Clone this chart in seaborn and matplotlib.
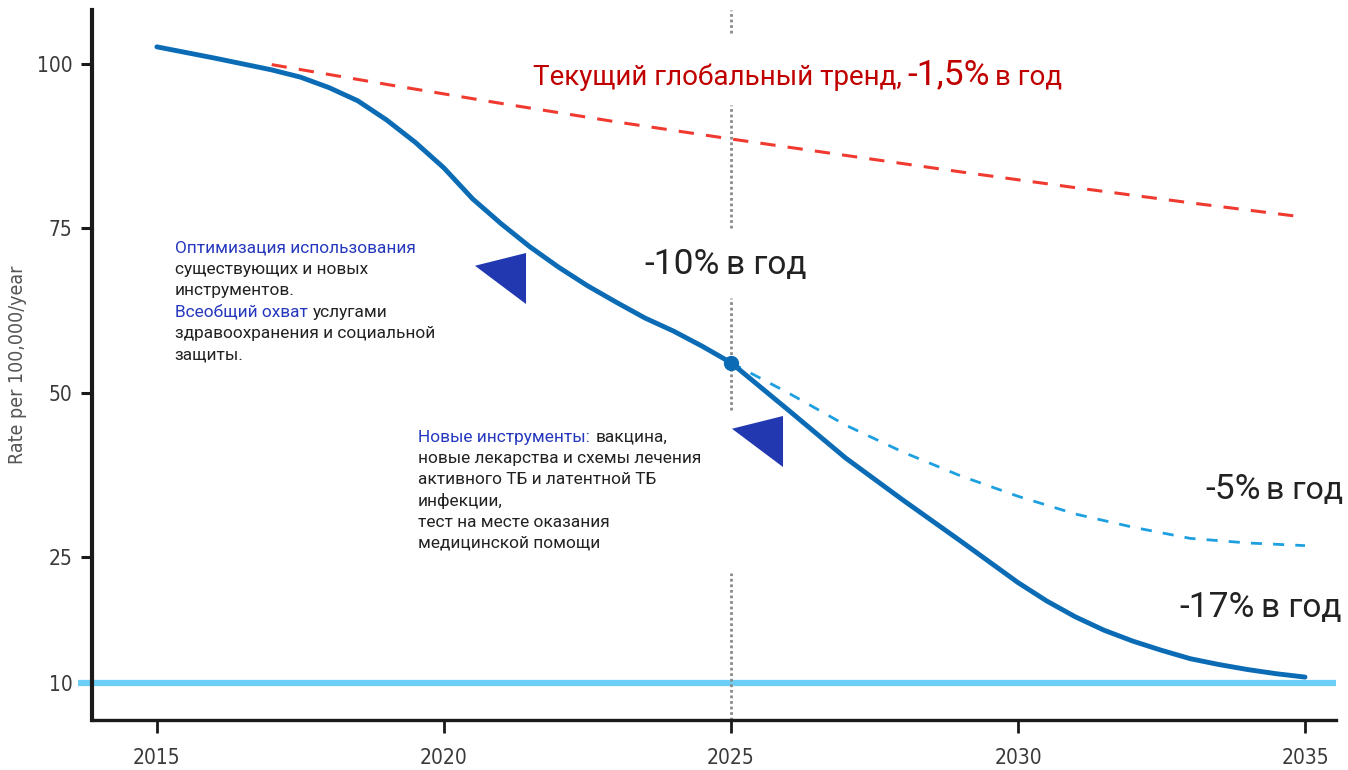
import numpy as np
import pandas as pd
import matplotlib
matplotlib.use("Agg")
import matplotlib.pyplot as plt
import seaborn as sns
from matplotlib.offsetbox import TextArea, HPacker, VPacker, AnnotationBbox
from matplotlib.markers import MarkerStyle
from matplotlib.path import Path

# ---------------- data ----------------
main_years = [2015, 2016, 2017, 2017.5, 2018, 2018.5, 2019, 2019.5, 2020, 2020.5,
              2021, 2021.5, 2022, 2022.5, 2023, 2023.5, 2024, 2024.5, 2025,
              2026, 2027, 2028, 2029, 2030, 2030.5, 2031, 2031.5, 2032, 2032.5,
              2033, 2033.5, 2034, 2034.5, 2035]
main_rate = [102.6, 100.9, 99.1, 98.0, 96.4, 94.4, 91.5, 88.1, 84.2, 79.5,
             75.7, 72.2, 69.1, 66.3, 63.8, 61.4, 59.4, 57.1, 54.6,
             47.4, 40.1, 33.7, 27.5, 22.0, 19.8, 17.9, 16.3, 15.0, 13.9,
             12.9, 12.2, 11.6, 11.1, 10.7]

trend_years = [2017, 2019, 2021, 2023, 2025, 2027, 2029, 2031, 2033, 2035]
trend_rate = [99.9, 96.9, 94.0, 91.2, 88.6, 86.1, 83.6, 81.2, 78.9, 76.7]

slow_years = [2025, 2026, 2027, 2028, 2029, 2030, 2031, 2032, 2033, 2034, 2035]
slow_rate = [54.6, 50.0, 45.1, 41.0, 37.4, 34.3, 31.6, 29.6, 27.9, 27.2, 26.8]

target_rate = 10
milestone_year = 2025
milestone_rate = 54.6

arrow_x = [2020.97, 2025.45]
arrow_y = [67.4, 42.7]

x_ticks = [2015, 2020, 2025, 2030, 2035]
y_ticks = [10, 25, 50, 75, 100]
y_label = "Rate per 100,000/year"

# ---------------- style ----------------
sns.set_theme(style="white")
plt.rcParams["font.family"] = ["Roboto", "DejaVu Sans"]

DARK_BLUE = "#0b6cb5"
LIGHT_BLUE = "#1ea0e0"
TARGET = "#6dcff6"
RED = "#f03a30"
TITLE_RED = "#c00000"
WORD_BLUE = "#2437bd"
TXT = "#222222"

fig = plt.figure(figsize=(13.48, 7.70), dpi=100)
ax = fig.add_axes([92 / 1348, 50 / 770, 1244 / 1348, 710 / 770])

# piecewise y scale (10 sits closer to 25 than linear)
xp = [-50.0, 10.0, 25.0, 500.0]
fp = [5.93 - 60 * 0.593, 5.93, 25.0, 500.0]
fwd = lambda v: np.interp(v, xp, fp)
inv = lambda p: np.interp(p, fp, xp)
ax.set_yscale("function", functions=(fwd, inv))

# target line
ax.axhline(target_rate, xmin=-0.011, xmax=1.0, color=TARGET, lw=4.5,
           clip_on=False, zorder=1, solid_capstyle="butt")

# vertical dotted milestone line (broken where annotations sit)
ax.vlines([milestone_year] * 4, [0.5, 47.4, 75.1, 104.7], [23.1, 64.4, 93.8, 108.2],
          colors="#8a8a8a", linestyles=(0, (1, 1)), lw=2.0, zorder=1)

df_trend = pd.DataFrame({"year": trend_years, "rate": trend_rate})
df_slow = pd.DataFrame({"year": slow_years, "rate": slow_rate})
df_main = pd.DataFrame({"year": main_years, "rate": main_rate})

sns.lineplot(data=df_trend, x="year", y="rate", ax=ax, color=RED, lw=2.2,
             linestyle=(0, (5, 4)), zorder=2)
sns.lineplot(data=df_slow, x="year", y="rate", ax=ax, color=LIGHT_BLUE, lw=2.0,
             linestyle=(0, (4, 4)), zorder=2)
sns.lineplot(data=df_main, x="year", y="rate", ax=ax, color=DARK_BLUE, lw=3.5,
             zorder=3)
ax.plot([milestone_year], [milestone_rate], "o", color=DARK_BLUE, ms=10, zorder=4)

# triangle arrow markers
tri = MarkerStyle(Path([(-1, 0.5), (1, 1), (1, -1), (-1, 0.5)]))
ax.scatter(arrow_x, arrow_y, marker=tri, s=1350, color="#2238b0", linewidths=0,
           zorder=5)

# axes
ax.set_xlim(2013.87, 2035.54)
ax.set_ylim(0.5, 108.2)
ax.set_xticks(x_ticks)
ax.set_xticklabels([str(t) for t in x_ticks])
ax.set_yticks(y_ticks)
ax.set_yticklabels([str(t) for t in y_ticks])
for s in ["top", "right"]:
    ax.spines[s].set_visible(False)
ax.spines["left"].set_linewidth(3.0)
ax.spines["left"].set_color("#1a1a1a")
ax.spines["bottom"].set_linewidth(2.4)
ax.spines["bottom"].set_color("#1a1a1a")
ax.tick_params(axis="y", direction="out", length=8, width=2.2, color="#1a1a1a",
               pad=6, left=True)
ax.tick_params(axis="x", direction="out", length=9, width=2.0, color="#1a1a1a",
               pad=11, bottom=True)
for lab in ax.get_xticklabels() + ax.get_yticklabels():
    lab.set_family(["DejaVu Sans"])
    lab.set_fontstretch("condensed")
    lab.set_fontweight("light")
    lab.set_fontsize(15)
    lab.set_color("#3a3a3a")
ax.set_xlabel("")
ax.set_ylabel(y_label, family=["DejaVu Sans"], fontstretch="condensed",
              fontweight="light", fontsize=14, color="#555555")
ax.yaxis.set_label_coords(-0.052, 0.5)
ax.grid(False)


def packed(lines, xy, size=12.4, sep=5.5, align=(0, 1)):
    rows = []
    for parts in lines:
        kids = [TextArea(t, textprops=dict(color=c, fontsize=fs if fs else size,
                                           family=["Roboto", "DejaVu Sans"]))
                for t, c, fs in parts]
        rows.append(HPacker(children=kids, align="baseline", pad=0, sep=4))
    box = VPacker(children=rows, align="left", pad=0, sep=sep)
    ab = AnnotationBbox(box, xy, xycoords="data", box_alignment=align,
                        frameon=False, pad=0, zorder=6, annotation_clip=False)
    ax.add_artist(ab)


packed([[("Оптимизация использования", WORD_BLUE, None)],
        [("существующих и новых", TXT, None)],
        [("инструментов.", TXT, None)],
        [("Всеобщий охват", WORD_BLUE, None), ("услугами", TXT, None)],
        [("здравоохранения и социальной", TXT, None)],
        [("защиты.", TXT, None)]],
       (2015.31, 73.2), sep=4.5)

packed([[("Новые инструменты:", WORD_BLUE, None), ("вакцина,", TXT, None)],
        [("новые лекарства и схемы лечения", TXT, None)],
        [("активного ТБ и латентной ТБ", TXT, None)],
        [("инфекции,", TXT, None)],
        [("тест на месте оказания", TXT, None)],
        [("медицинской помощи", TXT, None)]],
       (2019.55, 44.4), sep=4.3)

packed([[("Текущий глобальный тренд,", TITLE_RED, 20), ("-1,5%", TITLE_RED, 25.5),
         ("в год", TITLE_RED, 20)]],
       (2021.55, 98.3), align=(0, 0.5))

packed([[("-10%", TXT, 25.5), ("в год", TXT, 24)]], (2023.5, 69.5), align=(0, 0.5))
packed([[("-5%", TXT, 25.5), ("в год", TXT, 23)]], (2033.26, 35.3), align=(0, 0.5))
packed([[("-17%", TXT, 25.5), ("в год", TXT, 24)]], (2032.82, 19.0), align=(0, 0.5))

fig.savefig("out.png", dpi=100, facecolor="white")
